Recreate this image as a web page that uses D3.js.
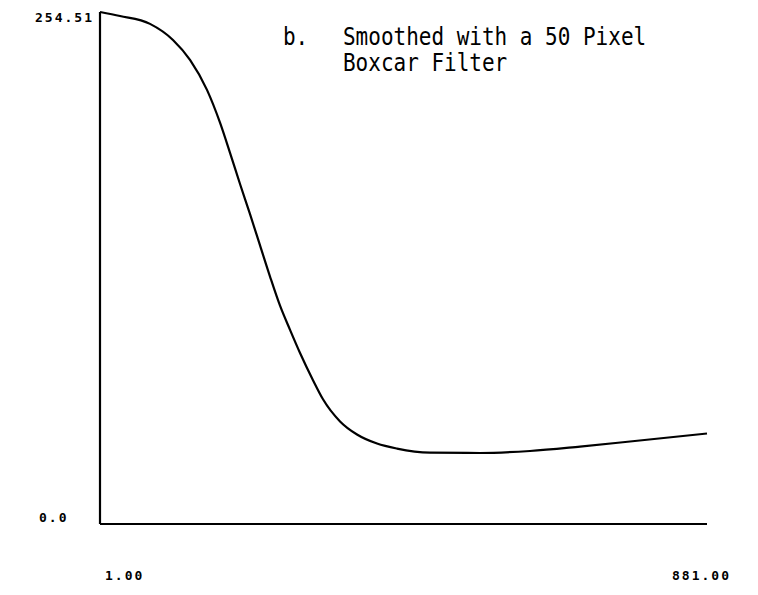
<!DOCTYPE html>
<html>
<head>
<meta charset="utf-8">
<script src="https://cdn.jsdelivr.net/npm/d3@7"></script>
<style>
  body { margin: 0; background: #fff; }
  svg { display: block; }
</style>
</head>
<body>
<svg id="chart"></svg>
<script>
var W = 758, H = 595;

// curve (pixel index, smoothed value)
var pixel = [1, 30, 73.5, 106.8, 131.5, 156.1, 175, 189.5, 204, 218.5, 233, 247.5, 262, 276.5, 291,
             309.8, 324.3, 349, 373.6, 402.6, 431.6, 479.4, 551.9, 624.4, 696.9, 769.4, 881];
var value = [254.51, 252.5, 248.6, 240.6, 230.7, 215.8, 199.5, 184.5, 169.0, 154.0, 138.5, 123.0, 108.5, 96.5, 85.0,
             71.5, 62.0, 51.0, 44.5, 40.0, 37.5, 35.5, 35.3, 36.3, 38.5, 41.0, 45.0];
var xTicks = [1, 881];
var xTickLabels = ["1.00", "881.00"];
var yTicks = [0, 254.51];
var yTickLabels = ["0.0", "254.51"];
var titleLines = ["Smoothed with a 50 Pixel", "Boxcar Filter"];

var margin = {top: 12, right: 51, bottom: 71, left: 100},
    width = W - margin.left - margin.right,
    height = H - margin.top - margin.bottom;

var svg = d3.select("#chart")
    .attr("width", W)
    .attr("height", H);

var x = d3.scaleLinear().domain([1, 881]).range([margin.left, margin.left + width]);
var y = d3.scaleLinear().domain([0, 254.51]).range([margin.top + height, margin.top]);

// axes as plain lines (old plotter style)
svg.append("line")
    .attr("x1", x(1)).attr("x2", x(1))
    .attr("y1", y(0)).attr("y2", y(254.51))
    .attr("stroke", "#000").attr("stroke-width", 2.2);
svg.append("line")
    .attr("x1", x(1)).attr("x2", x(881))
    .attr("y1", y(0)).attr("y2", y(0))
    .attr("stroke", "#000").attr("stroke-width", 2.2);

var data = pixel.map(function(d, i) { return {p: d, v: value[i]}; });

var line = d3.line()
    .x(function(d) { return x(d.p); })
    .y(function(d) { return y(d.v); })
    .curve(d3.curveMonotoneX);

svg.append("path")
    .datum(data)
    .attr("fill", "none")
    .attr("stroke", "#000")
    .attr("stroke-width", 2.2)
    .attr("d", line);

// tick labels
var tickFont = "'DejaVu Sans Mono', monospace";
svg.selectAll(".ylab")
    .data(yTicks)
    .enter().append("text")
    .attr("class", "ylab")
    .attr("x", function(d, i) { return i == 0 ? 39 : 35; })
    .attr("y", function(d, i) { return i == 0 ? y(d) - 2 : y(d) + 10; })
    .attr("font-family", tickFont)
    .attr("font-weight", "bold")
    .attr("font-size", 13)
    .attr("letter-spacing", 2)
    .text(function(d, i) { return yTickLabels[i]; });

svg.selectAll(".xlab")
    .data(xTicks)
    .enter().append("text")
    .attr("class", "xlab")
    .attr("x", function(d, i) { return i == 0 ? x(d) + 5 : x(d) - 35; })
    .attr("y", 580)
    .attr("font-family", tickFont)
    .attr("font-weight", "bold")
    .attr("font-size", 13)
    .attr("letter-spacing", 2)
    .text(function(d, i) { return xTickLabels[i]; });

// title
var titleFont = "'DejaVu Sans Mono', monospace";
var title = svg.append("g")
    .attr("transform", "translate(0,45) scale(1,1.15)");
title.append("text")
    .attr("x", 283).attr("y", 0)
    .attr("font-family", titleFont)
    .attr("font-size", 21)
    .text("b.");
title.selectAll(".title")
    .data(titleLines)
    .enter().append("text")
    .attr("class", "title")
    .attr("x", 343)
    .attr("y", function(d, i) { return i * 22.5; })
    .attr("font-family", titleFont)
    .attr("font-size", 21)
    .text(function(d) { return d; });
</script>
</body>
</html>
